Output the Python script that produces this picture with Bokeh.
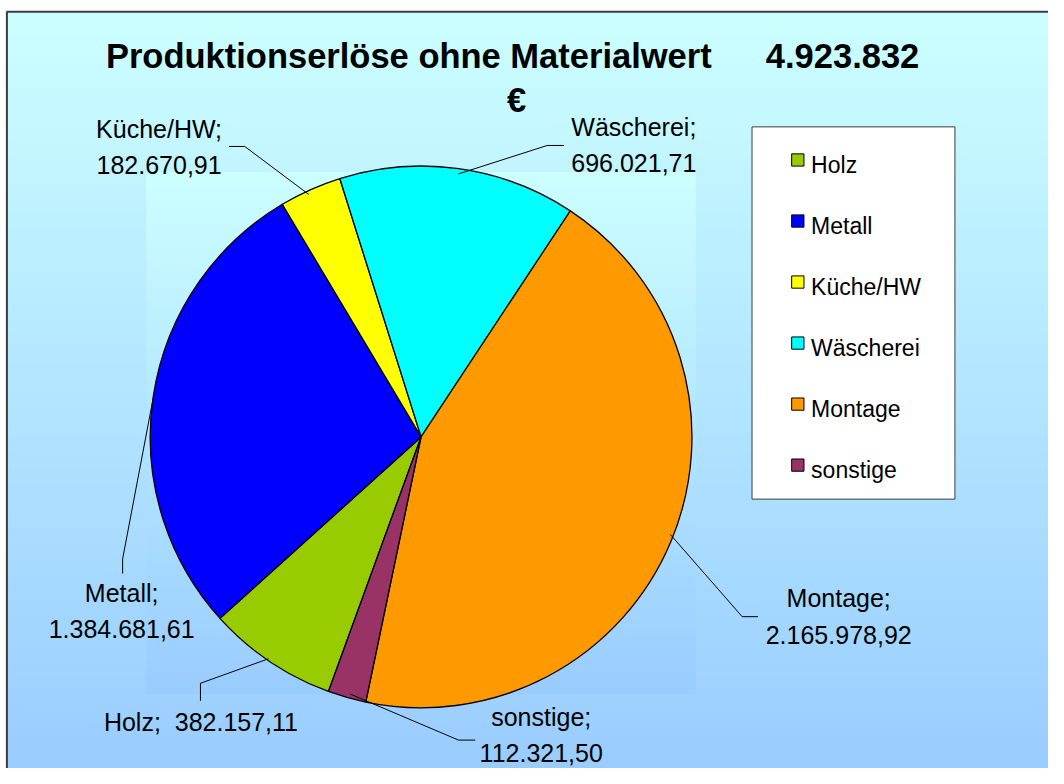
import numpy as np
from bokeh.plotting import figure
from bokeh.models import Range1d, ColumnDataSource
from bokeh.core.properties import value
from bokeh.embed import file_html
from bokeh.resources import INLINE

# ---------------- data ----------------
categories = ["Holz", "Metall", "Küche/HW", "Wäscherei", "Montage", "sonstige"]
values = [382157.11, 1384681.61, 182670.91, 696021.71, 2165978.92, 112321.50]
colors = ["#99CC00", "#0000FF", "#FFFF00", "#00FFFF", "#FF9900", "#993366"]
title_text = "Produktionserlöse ohne Materialwert"
currency = "€"

# ---------------- layout ----------------
W, H = 1048, 768          # figure size in pixels
RW, RH = 1064, 784        # layout units (reference picture pixels)
def px(X):
    return X
def py(Y):
    return RH - Y

FONT = value("Liberation Sans")
CX, CY, R = 427, 445.5, 275
FIRST_ANGLE = 250.0  # degrees, slices run clockwise


def de(v):
    s = f"{v:,.2f}"
    return s.replace(",", "X").replace(".", ",").replace("X", ".")


total = sum(values)
total_txt = f"{round(total):,}".replace(",", ".")

frac = np.array(values) / total
sweep = frac * 2 * np.pi
a0 = np.deg2rad(FIRST_ANGLE) - np.concatenate([[0.0], np.cumsum(sweep)[:-1]])
start_angle = a0 - sweep
end_angle = a0

p = figure(width=W, height=H, x_range=Range1d(0, RW), y_range=Range1d(0, RH),
           output_backend="svg", toolbar_location=None, min_border=0,
           background_fill_color="white", border_fill_color="white")
p.axis.visible = False
p.grid.visible = False
p.outline_line_color = None


def gradient(y_top_page, y_bot_page, top_rgb, bot_rgb, y_start_page, y_end_page):
    n = int(round(y_bot_page - y_top_page))
    img = np.empty((n, 2), dtype=np.uint32)
    view = img.view(dtype=np.uint8).reshape((n, 2, 4))
    for i in range(n):
        Y = y_bot_page - (i + 0.5)
        t = (Y - y_start_page) / (y_end_page - y_start_page)
        t = min(max(t, 0.0), 1.0)
        c = [int(round(top_rgb[k] + (bot_rgb[k] - top_rgb[k]) * t)) for k in range(3)]
        view[i, :, 0] = c[0]
        view[i, :, 1] = c[1]
        view[i, :, 2] = c[2]
        view[i, :, 3] = 255
    return img, n

TOP = (204, 255, 255)
BOT = (153, 204, 255)

# outer chart area gradient (page Y 12..784)
outer, n_o = gradient(12, 784, TOP, BOT, 12, 790)
p.image_rgba(image=[outer], x=px(6.5), y=py(784), dw=RW - 6.5, dh=n_o)
# inner plot area gradient (page X 148..706, Y 175..708)
inner, n_i = gradient(175, 708, TOP, BOT, 175, 708)
p.image_rgba(image=[inner], x=px(148), y=py(708), dw=706 - 148, dh=n_i)

# border (top + left)
p.segment(x0=[px(6), px(6.5)], y0=[py(11.5), py(11.5)], x1=[px(RW), px(6.5)], y1=[py(11.5), py(RH)],
          line_color="#3c3c3c", line_width=2)

# pie
src = ColumnDataSource(dict(cat=categories, val=values, color=colors,
                            start=start_angle, end=end_angle))
p.wedge(x=px(CX), y=py(CY), radius=R, start_angle="start", end_angle="end",
        fill_color="color", line_color="black", line_width=1.3, source=src)

# leader lines (page coords)
leaders = [
    [(272, 672), (203, 697), (203, 715)],      # Holz
    [(155, 406), (124, 570), (124, 585)],      # Metall
    [(313, 198), (248, 149), (232, 149)],      # Küche/HW
    [(465, 177), (555, 148), (572, 148)],      # Wäscherei
    [(680, 545), (753, 629), (769, 629)],      # Montage
    [(355, 708), (465, 755), (482, 755)],      # sonstige
]
p.multi_line(xs=[[px(a[0]) for a in l] for l in leaders],
             ys=[[py(a[1]) for a in l] for l in leaders],
             line_color="black", line_width=1)

# data labels
seps = ["\u00a0 ", "\n", "\n", "\n", "\n", "\n"]
label_pos = [(203.5, 737), (123, 623.5), (161, 149.5), (643, 147.5), (851, 629), (549, 750)]
labels = [f"{c};{s}{de(v)}" for c, s, v in zip(categories, seps, values)]
p.text(x=[px(a[0]) for a in label_pos], y=[py(a[1]) for a in label_pos], text=labels,
       text_font=FONT, text_font_size="25px", text_align="center",
       text_baseline="middle", text_line_height=1.3, text_color="black")

# title
p.text(x=[px(107)], y=[py(57)], text=[title_text], text_font=FONT,
       text_font_size="34.5px", text_font_style="bold", text_align="left",
       text_baseline="alphabetic", text_color="black")
p.text(x=[px(777)], y=[py(57)], text=[total_txt], text_font=FONT,
       text_font_size="34.5px", text_font_style="bold", text_align="left",
       text_baseline="alphabetic", text_color="black")
p.text(x=[px(524)], y=[py(102)], text=[currency], text_font=FONT,
       text_font_size="34.5px", text_font_style="bold", text_align="center",
       text_baseline="alphabetic", text_color="black")

# legend (manual)
p.quad(left=[px(763)], right=[px(969)], top=[py(129)], bottom=[py(509)],
       fill_color="white", line_color="#3c3c3c", line_width=1)
ly = [py(162.8 + i * 62.3) for i in range(len(categories))]
p.rect(x=[px(809.5)] * len(categories), y=ly, width=12.5, height=12.5,
       fill_color=colors, line_color="black", line_width=1)
p.text(x=[px(823)] * len(categories), y=[v - 5 for v in ly], text=categories,
       text_font=FONT, text_font_size="23px", text_align="left",
       text_baseline="alphabetic", text_color="black")

open("out.html", "w").write(file_html(p, INLINE))
